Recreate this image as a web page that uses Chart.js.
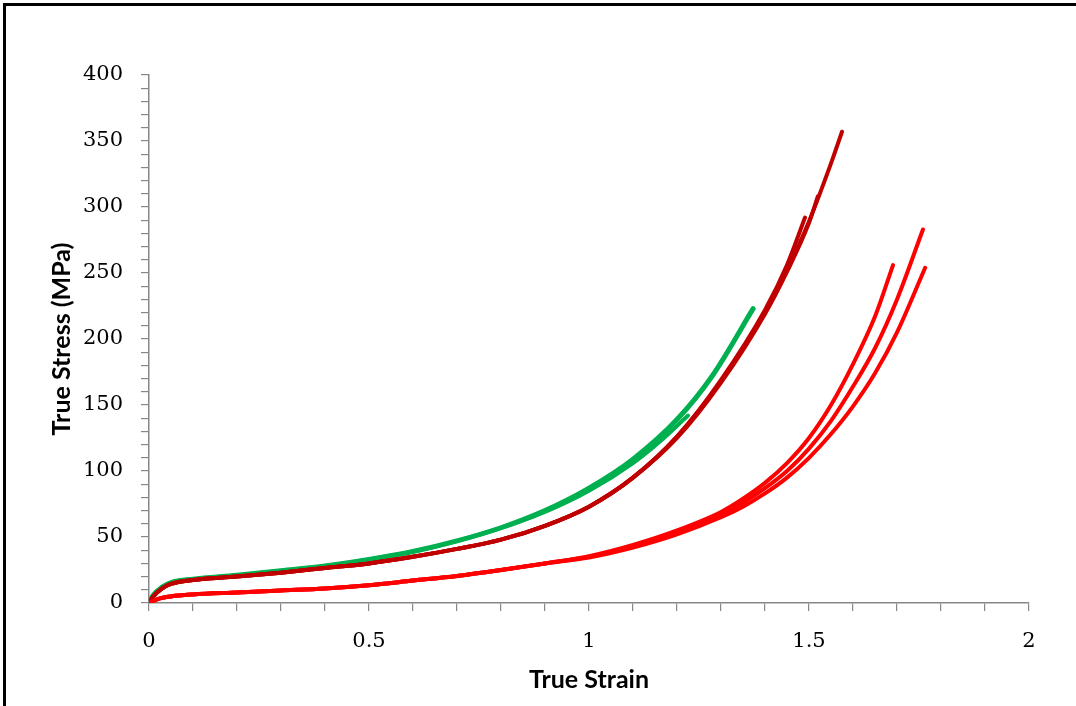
<!DOCTYPE html>
<html>
<head>
<meta charset="utf-8">
<script src="https://cdn.jsdelivr.net/npm/chart.js@4/dist/chart.umd.min.js"></script>
<style>
  html, body { margin: 0; padding: 0; background: #fff; }
  #wrap { position: relative; width: 1076px; height: 706px; overflow: hidden; }
  #frame { position: absolute; left: 3px; top: 3px; width: 1100px; height: 720px; border-left: 3px solid #000; border-top: 3px solid #000; pointer-events: none; }
  canvas { position: absolute; left: 0; top: 0; }
</style>
</head>
<body>
<div id="wrap">
  <canvas id="c" width="1076" height="706"></canvas>
  <div id="frame"></div>
</div>
<script>
// Green (two specimens)
const greenAStrain = [0, 0.01, 0.03, 0.05, 0.1, 0.2, 0.3, 0.4, 0.5, 0.6, 0.7, 0.8, 0.9, 1.0, 1.1, 1.2, 1.28, 1.373];
const greenAStress = [0, 6, 12, 15.5, 18, 21, 24.5, 28, 33, 39, 47, 57, 70, 87, 109, 139, 172, 223];
const greenBStrain = [0, 0.01, 0.03, 0.05, 0.1, 0.2, 0.3, 0.4, 0.5, 0.6, 0.7, 0.8, 0.9, 1.0, 1.1, 1.16, 1.225];
const greenBStress = [0, 6, 12, 15.5, 18, 21, 24.5, 28, 33, 39, 47, 57, 69, 85, 106, 122, 142];

// Dark red (three specimens)
const darkAStrain = [0, 0.01, 0.03, 0.05, 0.1, 0.2, 0.3, 0.4, 0.5, 0.6, 0.7, 0.8, 0.9, 1.0, 1.1, 1.2, 1.3, 1.4, 1.45, 1.5, 1.55, 1.575];
const darkAStress = [0, 5, 11, 14.5, 17.5, 20, 23, 26.5, 30, 35, 41, 48, 58.5, 73, 95, 126, 168, 220, 252, 289, 333, 357];
const darkBStrain = [0, 0.01, 0.03, 0.05, 0.1, 0.2, 0.3, 0.4, 0.5, 0.6, 0.7, 0.8, 0.9, 1.0, 1.1, 1.2, 1.3, 1.4, 1.45, 1.491];
const darkBStress = [0, 5, 11, 14.5, 17.5, 20, 23, 26.5, 30, 35, 41, 48, 58.5, 73, 95, 126, 169, 222, 256, 292];
const darkCStrain = [0, 0.01, 0.03, 0.05, 0.1, 0.2, 0.3, 0.4, 0.5, 0.6, 0.7, 0.8, 0.9, 1.0, 1.1, 1.2, 1.3, 1.4, 1.45, 1.5, 1.52];
const darkCStress = [0, 5, 11, 14.5, 17.5, 20, 23, 26.5, 30, 35, 41, 48, 58.5, 73, 95, 125, 167, 219, 251, 288, 308];

// Red (three specimens)
const redAStrain = [0, 0.02, 0.05, 0.1, 0.2, 0.3, 0.4, 0.5, 0.6, 0.7, 0.8, 0.9, 1.0, 1.1, 1.2, 1.3, 1.35, 1.4, 1.45, 1.5, 1.55, 1.6, 1.65, 1.691];
const redAStress = [0, 3, 5, 6.5, 8, 9.5, 11, 13.5, 17, 20.5, 25, 30, 35.5, 44, 55, 69, 79, 91, 106, 125, 150, 181, 217, 256];
const redBStrain = [0, 0.02, 0.05, 0.1, 0.2, 0.3, 0.4, 0.5, 0.6, 0.7, 0.8, 0.9, 1.0, 1.1, 1.2, 1.3, 1.35, 1.4, 1.45, 1.5, 1.55, 1.6, 1.65, 1.7, 1.759];
const redBStress = [0, 3, 5, 6.5, 8, 9.5, 11, 13.5, 17, 20.5, 25, 30, 35, 43, 53.5, 67, 76, 87, 100, 117, 138, 164, 193, 230, 283];
const redCStrain = [0, 0.02, 0.05, 0.1, 0.2, 0.3, 0.4, 0.5, 0.6, 0.7, 0.8, 0.9, 1.0, 1.1, 1.2, 1.3, 1.35, 1.4, 1.45, 1.5, 1.55, 1.6, 1.65, 1.7, 1.764];
const redCStress = [0, 3, 5, 6.5, 8, 9.5, 11, 13.5, 17, 20.5, 25, 30, 34.5, 42, 52, 65, 73, 83, 95, 110, 128, 149, 174, 205, 254];

// Axes
const xTickLabels = ['0', '0.5', '1', '1.5', '2'];
const yTickLabels = ['0', '50', '100', '150', '200', '250', '300', '350', '400'];

const GREEN = '#00B050', DARK = '#C00000', RED = '#FF0000';

function pts(xs, ys) { return xs.map((x, i) => ({ x: x, y: ys[i] })); }
function ds(xs, ys, color, w) {
  return { data: pts(xs, ys), borderColor: color, backgroundColor: color, borderWidth: w,
           pointRadius: 0, fill: false, cubicInterpolationMode: 'monotone', borderCapStyle: 'round', borderJoinStyle: 'round' };
}

const tickFont = { family: '"DejaVu Serif", serif', size: 21 };
const titleFont = { family: 'Lato, "Open Sans", sans-serif', size: 25, weight: 'bold' };
const axisGray = '#878787';

new Chart(document.getElementById('c'), {
  type: 'line',
  data: {
    datasets: [
      ds(redCStrain, redCStress, RED, 4),
      ds(redBStrain, redBStress, RED, 4),
      ds(redAStrain, redAStress, RED, 4),
      ds(darkCStrain, darkCStress, DARK, 4),
      ds(darkBStrain, darkBStress, DARK, 4),
      ds(darkAStrain, darkAStress, DARK, 4),
      ds(greenBStrain, greenBStress, GREEN, 4),
      ds(greenAStrain, greenAStress, GREEN, 5)
    ]
  },
  options: {
    responsive: false,
    animation: false,
    events: [],
    layout: { padding: { left: 40, right: 47, top: 75, bottom: 11 } },
    plugins: { legend: { display: false }, tooltip: { enabled: false } },
    scales: {
      x: {
        type: 'linear', min: 0, max: 2,
        border: { display: true, color: axisGray, width: 1.5 },
        grid: { display: true, drawOnChartArea: false, drawTicks: true, tickLength: 8, color: axisGray, lineWidth: 1.2 },
        ticks: {
          stepSize: 0.1, autoSkip: false, maxRotation: 0, color: '#000', font: tickFont, padding: 18,
          callback: function (v) { const k = Math.round(v * 10); return k % 5 === 0 ? xTickLabels[k / 5] : ''; }
        },
        title: { display: true, text: 'True Strain', font: titleFont, color: '#000', padding: { top: 8, bottom: 0 } },
        afterFit: function (s) { s.height = 706 - 603 - 11; }
      },
      y: {
        type: 'linear', min: 0, max: 400,
        border: { display: true, color: axisGray, width: 1.5 },
        grid: { display: true, drawOnChartArea: false, drawTicks: true, tickLength: 8, color: axisGray, lineWidth: 1.2 },
        ticks: {
          stepSize: 10, autoSkip: false, color: '#000', font: tickFont, padding: 18,
          callback: function (v) { const k = Math.round(v); return k % 50 === 0 ? yTickLabels[k / 50] : ''; }
        },
        title: { display: true, text: 'True Stress (MPa)', font: titleFont, color: '#000', padding: { top: 7, bottom: 4 } },
        afterFit: function (s) { s.width = 149 - 40; }
      }
    }
  }
});
</script>
</body>
</html>
